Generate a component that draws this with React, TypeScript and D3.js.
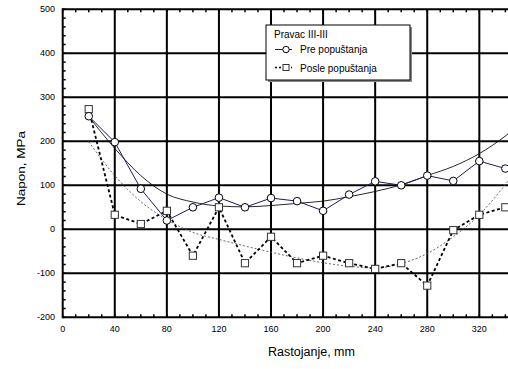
import React from 'react';
import * as d3 from 'd3';

// measurement positions (mm)
const distances = [20, 40, 60, 80, 100, 120, 140, 160, 180, 200, 220, 240, 260, 280, 300, 320, 340];
// Pre popuštanja (circles)
const preValues = [257, 198, 92, 20, 50, 72, 50, 71, 64, 42, 79, 109, 100, 122, 110, 155, 138];
// Posle popuštanja (squares)
const posleValues = [273, 33, 12, 42, -60, 50, -77, -17, -77, -60, -77, -90, -77, -128, -2, 33, 50];

// trend curves
const trendDistances = [20, 40, 60, 80, 100, 120, 140, 160, 180, 200, 220, 240, 260, 280, 300, 320, 340, 350];
const preTrend = [256, 184, 122, 80, 62, 53, 51, 54, 59, 64, 74, 86, 101, 122, 143, 172, 212, 236];
const posleTrend = [199, 122, 63, 22, -7, -23, -38, -52, -65, -76, -84, -88, -78, -55, -17, 33, 102, 142];

const xTicks = [0, 40, 80, 120, 160, 200, 240, 280, 320];
const yTicks = [-200, -100, 0, 100, 200, 300, 400, 500];

const font = '"Liberation Sans", Arial, sans-serif';

export default function App() {
  const width = 508;
  const height = 369;

  const x = d3.scaleLinear().domain([0, 360]).range([62.7, 531.4]);
  const y = d3.scaleLinear().domain([-200, 500]).range([317.3, 9.3]);

  const pts = (vals: number[], xs: number[]) => xs.map((d, i) => [d, vals[i]] as [number, number]);

  const straight = d3.line<[number, number]>().x(d => x(d[0])).y(d => y(d[1]));
  const smooth = d3.line<[number, number]>().x(d => x(d[0])).y(d => y(d[1])).curve(d3.curveMonotoneX);

  const minorX = d3.range(0, 361, 10);
  const minorY = d3.range(-200, 501, 20);

  return (
    <svg width={width} height={height} style={{ position: 'absolute', left: 0, top: 0, background: '#fff' }}>
      {/* major grid */}
      {xTicks.slice(1).concat([360]).map(t => (
        <line key={'gx' + t} x1={x(t)} x2={x(t)} y1={y(500)} y2={y(-200)} stroke="#000" strokeWidth={2} />
      ))}
      {yTicks.map(t => (
        <line key={'gy' + t} x1={x(0)} x2={x(360)} y1={y(t)} y2={y(t)} stroke="#000" strokeWidth={2} />
      ))}
      <line x1={x(0)} x2={x(0)} y1={y(500) - 1} y2={y(-200) + 1} stroke="#000" strokeWidth={2} />

      {/* minor ticks */}
      {minorX.map(t => (
        <g key={'mx' + t}>
          <line x1={x(t)} x2={x(t)} y1={y(-200)} y2={y(-200) - 3} stroke="#000" strokeWidth={1.5} />
          <line x1={x(t)} x2={x(t)} y1={y(500)} y2={y(500) + 3} stroke="#000" strokeWidth={1.5} />
        </g>
      ))}
      {minorY.map(t => (
        <line key={'my' + t} x1={x(0)} x2={x(0) + 3} y1={y(t)} y2={y(t)} stroke="#000" strokeWidth={1.5} />
      ))}

      {/* tick labels */}
      {xTicks.map(t => (
        <text key={'tx' + t} x={x(t)} y={332} textAnchor="middle" fontFamily={font} fontSize={9} fill="#000">{t}</text>
      ))}
      {yTicks.map(t => (
        <text key={'ty' + t} x={55} y={y(t) + 3} textAnchor="end" fontFamily={font} fontSize={9} fill="#000">{t}</text>
      ))}

      {/* axis titles */}
      <text x={268} y={355.5} fontFamily={font} fontSize={12} textLength={87} lengthAdjust="spacingAndGlyphs" fill="#000">Rastojanje, mm</text>
      <text transform="translate(25,206) rotate(-90)" fontFamily={font} fontSize={10.5} textLength={75} lengthAdjust="spacingAndGlyphs" fill="#000">Napon, MPa</text>

      {/* trend curves */}
      <path d={smooth(pts(preTrend, trendDistances)) || ''} fill="none" stroke="#111" strokeWidth={0.9} />
      <path d={smooth(pts(posleTrend, trendDistances)) || ''} fill="none" stroke="#555" strokeWidth={0.9} strokeDasharray="2,2" />

      {/* series lines */}
      <path d={straight(pts(preValues, distances)) || ''} fill="none" stroke="#1c1c60" strokeWidth={1} />
      <path d={straight(pts(posleValues, distances)) || ''} fill="none" stroke="#000" strokeWidth={1.8} strokeDasharray="3,2.5" />

      {/* markers */}
      {distances.map((d, i) => (
        <rect key={'sq' + d} x={x(d) - 3.6} y={y(posleValues[i]) - 3.6} width={7.2} height={7.2} fill="#fff" stroke="#333" strokeWidth={1} />
      ))}
      {distances.map((d, i) => (
        <circle key={'c' + d} cx={x(d)} cy={y(preValues[i])} r={3.8} fill="#fff" stroke="#000" strokeWidth={1} />
      ))}

      {/* legend */}
      <rect x={268} y={27} width={144} height={55} fill="#888" />
      <rect x={266} y={25} width={144} height={55} fill="#fff" stroke="#000" strokeWidth={1} />
      <text x={274} y={37.5} fontFamily={font} fontSize={10} fill="#000">Pravac III-III</text>
      <line x1={275} x2={292} y1={49.5} y2={49.5} stroke="#1c1c60" strokeWidth={1} />
      <circle cx={286} cy={49.5} r={3.2} fill="#fff" stroke="#000" strokeWidth={1} />
      <text x={300} y={53} fontFamily={font} fontSize={10} fill="#000">Pre popuštanja</text>
      <line x1={275} x2={292} y1={67.5} y2={67.5} stroke="#000" strokeWidth={1.3} strokeDasharray="2,2" />
      <rect x={283} y={64.5} width={6} height={6} fill="#fff" stroke="#333" strokeWidth={1} />
      <text x={300} y={71.5} fontFamily={font} fontSize={10} fill="#000">Posle popuštanja</text>
    </svg>
  );
}
